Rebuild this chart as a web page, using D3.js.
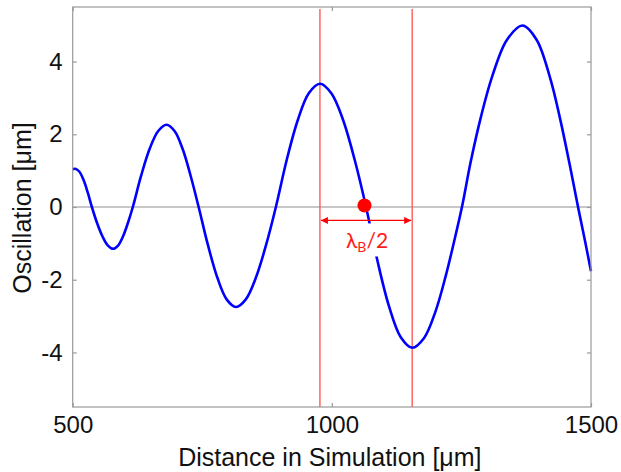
<!DOCTYPE html>
<html><head><meta charset="utf-8">
<script src="https://cdn.jsdelivr.net/npm/d3@7"></script>
<style>body{margin:0;background:#fff;} svg{display:block;}</style>
</head><body>
<script>
// Data
const distance = [500,505,513,521,529,537,547,557.5,568,578,587.5,597,606.5,616,632,648.5,665,681,696.5,712,727.5,743,761,779,797,815,834,853.5,873,892,913,934.5,955.5,977,999,1021.5,1044,1066,1088,1110.5,1133,1155,1178,1200,1220,1236,1251,1268,1288,1310,1338,1368,1395,1421.5,1440,1458,1475,1488,1500];
const oscillation = [1.04,1.05,0.97,0.74,0.40,0,-0.44,-0.81,-1.06,-1.15,-1.06,-0.81,-0.44,0,0.86,1.60,2.09,2.26,2.09,1.60,0.86,0,-1.05,-1.94,-2.54,-2.75,-2.54,-1.94,-1.05,0,1.30,2.40,3.13,3.39,3.13,2.40,1.30,0,-1.48,-2.74,-3.58,-3.87,-3.60,-2.87,-1.88,-0.94,0,1.25,2.50,3.62,4.60,4.99,4.60,3.53,2.45,1.23,0,-0.9,-1.77];
const xTicks = [500,1000,1500];
const yTicks = [-4,-2,0,2,4];
const markers = [977,1155];      // red vertical lines
const dotPoint = [1063,0.04];    // red dot
const arrowY = -0.37;
const xLabel = "Distance in Simulation [μm]";
const yLabel = "Oscillation [μm]";

const W=621,H=472;
const L=72.7,R=591,T=7,B=407;
const svg=d3.select("body").append("svg").attr("width",W).attr("height",H);
const x=d3.scaleLinear().domain([500,1500]).range([L,R]);
const y=d3.scaleLinear().domain([-5.5,5.5]).range([B,T]);

// zero line
svg.append("line").attr("x1",L).attr("x2",R).attr("y1",y(0)).attr("y2",y(0))
  .attr("stroke","#b4b4b4").attr("stroke-width",1.6);

// red vertical lines
svg.selectAll("line.mk").data(markers).enter().append("line").attr("class","mk")
  .attr("x1",d=>x(d)).attr("x2",d=>x(d)).attr("y1",T+2).attr("y2",B)
  .attr("stroke","#ff5a5a").attr("stroke-width",1.4);

// curve
const line=d3.line().x((d,i)=>x(distance[i])).y(d=>y(d)).curve(d3.curveCatmullRom.alpha(0.5));
svg.append("path").attr("d",line(oscillation)).attr("fill","none")
  .attr("stroke","#0000ff").attr("stroke-width",2.6).attr("stroke-linejoin","round");

// axes box
const axisColor="#999";
svg.append("rect").attr("x",L).attr("y",T).attr("width",R-L).attr("height",B-T)
  .attr("fill","none").attr("stroke",axisColor).attr("stroke-width",1.2);

const ax=svg.append("g");
ax.append("g").attr("transform",`translate(0,${B})`).call(d3.axisBottom(x).tickValues(xTicks).tickSize(-4).tickPadding(9).tickFormat(d3.format("d")));
ax.append("g").attr("transform",`translate(0,${T})`).call(d3.axisTop(x).tickValues(xTicks).tickSize(-4).tickFormat(""));
ax.append("g").attr("transform",`translate(${L},0)`).call(d3.axisLeft(y).tickValues(yTicks).tickSize(-4).tickPadding(10).tickFormat(d=>d));
ax.append("g").attr("transform",`translate(${R},0)`).call(d3.axisRight(y).tickValues(yTicks).tickSize(-4).tickFormat(""));
ax.selectAll(".domain").remove();
ax.selectAll(".tick line").attr("stroke",axisColor).attr("stroke-width",1.2);
ax.selectAll(".tick text").attr("fill","#111").style("font-family","'Liberation Sans',Arial,sans-serif").style("font-size","24px");

// label background + arrow
const midX=(x(markers[0])+x(markers[1]))/2;
svg.append("rect").attr("x",midX-22).attr("y",y(arrowY)+3).attr("width",48).attr("height",33).attr("fill","#fff");
const defs=svg.append("defs");
defs.append("marker").attr("id","ah").attr("viewBox","0 0 10 10").attr("refX",10).attr("refY",5)
  .attr("markerWidth",9).attr("markerHeight",7).attr("markerUnits","userSpaceOnUse").attr("orient","auto-start-reverse")
  .append("path").attr("d","M0,0L10,5L0,10z").attr("fill","#ff0000");
svg.append("line").attr("x1",x(markers[0])+1).attr("x2",x(markers[1])-1).attr("y1",y(arrowY)).attr("y2",y(arrowY))
  .attr("stroke","#ff0000").attr("stroke-width",1.2).attr("marker-start","url(#ah)").attr("marker-end","url(#ah)");
const lab=svg.append("text").attr("x",x(1066)+1).attr("y",248).attr("text-anchor","middle")
  .attr("fill","#ff1a1a").style("font-family","Lato,'Open Sans',sans-serif").style("font-size","21px");
lab.append("tspan").text("λ");
lab.append("tspan").attr("dy",4).style("font-size","14px").text("B");
lab.append("tspan").attr("dy",-4).text("/2");

// dot
svg.append("circle").attr("cx",x(dotPoint[0])).attr("cy",y(dotPoint[1])).attr("r",7).attr("fill","#ff0000");

// axis titles
svg.append("text").attr("x",(L+R)/2-2).attr("y",466).attr("text-anchor","middle")
  .attr("fill","#111").style("font-family","'Liberation Sans',Arial,sans-serif").style("font-size","25px").text(xLabel);
svg.append("text").attr("transform",`translate(31,208) rotate(-90)`).attr("text-anchor","middle")
  .attr("fill","#111").style("font-family","'Liberation Sans',Arial,sans-serif").style("font-size","25px").text(yLabel);
</script>
</body></html>
